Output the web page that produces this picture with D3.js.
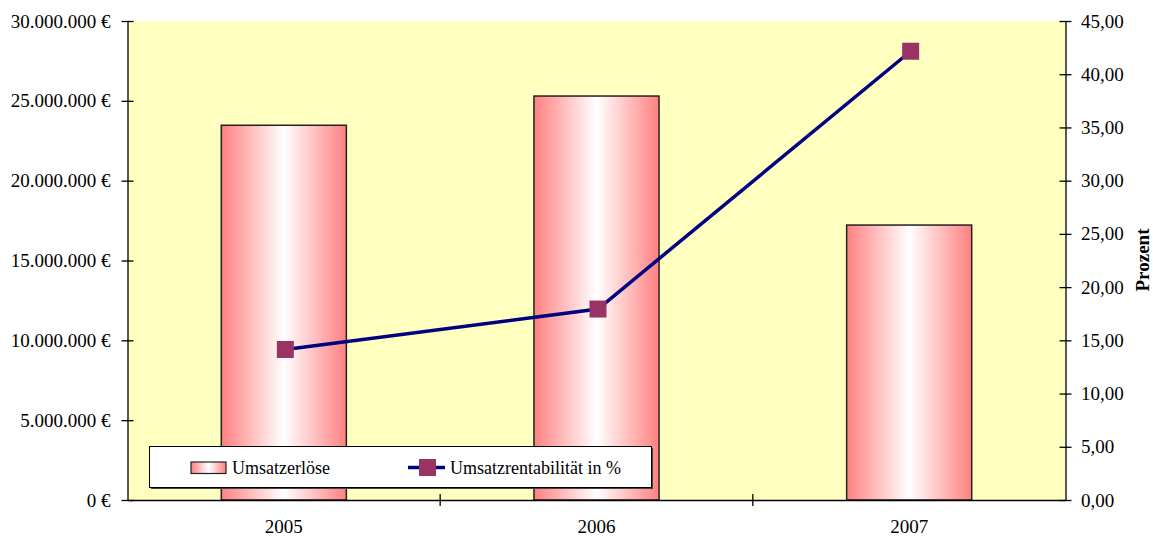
<!DOCTYPE html>
<html>
<head>
<meta charset="utf-8">
<script src="https://cdn.jsdelivr.net/npm/d3@7"></script>
<style>
  html, body { margin: 0; padding: 0; background: #fff; }
  svg { display: block; }
  text { font-family: "Liberation Serif", "Times New Roman", serif; fill: #000; }
</style>
</head>
<body>
<svg id="chart" width="1153" height="536"></svg>
<script>
// Jahre, Umsatzerlöse (€) und Umsatzrentabilität (%)
const years = ["2005", "2006", "2007"];
const revenue = [23470000, 25300000, 17220000];
const returnOnSales = [14.14, 17.94, 42.16];
const leftTicks = [0, 5000000, 10000000, 15000000, 20000000, 25000000, 30000000];
const rightTicks = [0, 5, 10, 15, 20, 25, 30, 35, 40, 45];

const svg = d3.select("#chart");
const m = { left: 127.5, right: 1065.5, top: 21, bottom: 500 };
const FS = 19;
const SERIF = "'Liberation Serif', 'Times New Roman', serif";

const x = d3.scaleBand().domain(years).range([m.left, m.right]).paddingInner(0).paddingOuter(0);
const yL = d3.scaleLinear().domain([0, 30000000]).range([m.bottom, m.top]);
const yR = d3.scaleLinear().domain([0, 45]).range([m.bottom, m.top]);

const defs = svg.append("defs");
const grad = defs.append("linearGradient").attr("id", "barGrad")
  .attr("x1", "0%").attr("x2", "100%").attr("y1", "0%").attr("y2", "0%");
grad.append("stop").attr("offset", "0%").attr("stop-color", "#ff8080");
grad.append("stop").attr("offset", "50%").attr("stop-color", "#ffffff");
grad.append("stop").attr("offset", "100%").attr("stop-color", "#ff8080");

// Plotfläche
svg.append("rect")
  .attr("x", m.left).attr("y", m.top)
  .attr("width", m.right - m.left).attr("height", m.bottom - m.top)
  .attr("fill", "#ffffc0");

// Säulen
const barW = x.bandwidth() * 0.4;
svg.append("g").selectAll("rect").data(years).join("rect")
  .attr("x", d => x(d) + (x.bandwidth() - barW) / 2)
  .attr("y", (d, i) => yL(revenue[i]))
  .attr("width", barW)
  .attr("height", (d, i) => yL(0) - yL(revenue[i]))
  .attr("fill", "url(#barGrad)")
  .attr("stroke", "#222")
  .attr("stroke-width", 1.5);

const fmtEuro = v => (v === 0 ? "0" : d3.format(",")(v).replace(/,/g, ".")) + " €";
const fmtPct = v => v.toFixed(2).replace(".", ",");

// linke Achse
const gL = svg.append("g").attr("transform", `translate(${m.left},0)`)
  .call(d3.axisLeft(yL).tickValues(leftTicks).tickFormat(fmtEuro).tickSize(6).tickSizeOuter(0));
gL.select(".domain").attr("stroke", "#000").attr("stroke-width", 1.3);
gL.selectAll(".tick line").attr("x2", 6).attr("x1", -6).attr("stroke", "#000").attr("stroke-width", 1.3);
gL.selectAll(".tick text").attr("x", -17).attr("font-size", FS).style("font-family", SERIF);

// rechte Achse
const gR = svg.append("g").attr("transform", `translate(${m.right},0)`)
  .call(d3.axisRight(yR).tickValues(rightTicks).tickFormat(fmtPct).tickSize(6).tickSizeOuter(0));
gR.select(".domain").attr("stroke", "#000").attr("stroke-width", 1.3);
gR.selectAll(".tick line").attr("x1", -6).attr("x2", 6).attr("stroke", "#000").attr("stroke-width", 1.3);
gR.selectAll(".tick text").attr("x", 15.5).attr("font-size", FS).style("font-family", SERIF);

// untere Achse (Teilstriche an den Kategoriegrenzen)
const gB = svg.append("g").attr("transform", `translate(0,${m.bottom})`)
  .call(d3.axisBottom(x).tickSize(0).tickSizeOuter(0));
gB.select(".domain").attr("stroke", "#000").attr("stroke-width", 1.3);
gB.selectAll(".tick text").attr("y", 32.5).attr("dy", 0).attr("font-size", FS).style("font-family", SERIF);
gB.selectAll(".bound").data(years.slice(1)).join("line")
  .attr("class", "bound")
  .attr("x1", d => x(d)).attr("x2", d => x(d))
  .attr("y1", -6).attr("y2", 6)
  .attr("stroke", "#000").attr("stroke-width", 1.3);

// Linie Umsatzrentabilität
const line = d3.line()
  .x((d, i) => x(years[i]) + x.bandwidth() / 2 + 1.5)
  .y(d => yR(d));
svg.append("path").datum(returnOnSales)
  .attr("d", line)
  .attr("fill", "none")
  .attr("stroke", "#000080")
  .attr("stroke-width", 3.5);

const ms = 17;
svg.append("g").selectAll("rect").data(returnOnSales).join("rect")
  .attr("x", (d, i) => x(years[i]) + x.bandwidth() / 2 + 1.5 - ms / 2)
  .attr("y", d => yR(d) - ms / 2)
  .attr("width", ms).attr("height", ms)
  .attr("fill", "#993366");

// Achsentitel rechts
svg.append("text")
  .attr("transform", "translate(1149,260) rotate(-90)")
  .attr("text-anchor", "middle")
  .attr("font-size", FS)
  .attr("font-weight", "bold")
  .text("Prozent");

// Legende
const lg = svg.append("g");
lg.append("rect").attr("x", 151).attr("y", 448).attr("width", 502).attr("height", 41).attr("fill", "#444");
lg.append("rect").attr("x", 149.5).attr("y", 446.5).attr("width", 502).attr("height", 41)
  .attr("fill", "#fff").attr("stroke", "#000").attr("stroke-width", 1);
lg.append("rect").attr("x", 191).attr("y", 462).attr("width", 35).attr("height", 11.5)
  .attr("fill", "url(#barGrad)").attr("stroke", "#222").attr("stroke-width", 1.2);
lg.append("text").attr("x", 232).attr("y", 474).attr("font-size", 18).text("Umsatzerlöse");
lg.append("line").attr("x1", 408).attr("x2", 445).attr("y1", 467.5).attr("y2", 467.5)
  .attr("stroke", "#000080").attr("stroke-width", 3.5);
lg.append("rect").attr("x", 419).attr("y", 459).attr("width", 17).attr("height", 17).attr("fill", "#993366");
lg.append("text").attr("x", 450).attr("y", 474).attr("font-size", 18).text("Umsatzrentabilität in %");
</script>
</body>
</html>
